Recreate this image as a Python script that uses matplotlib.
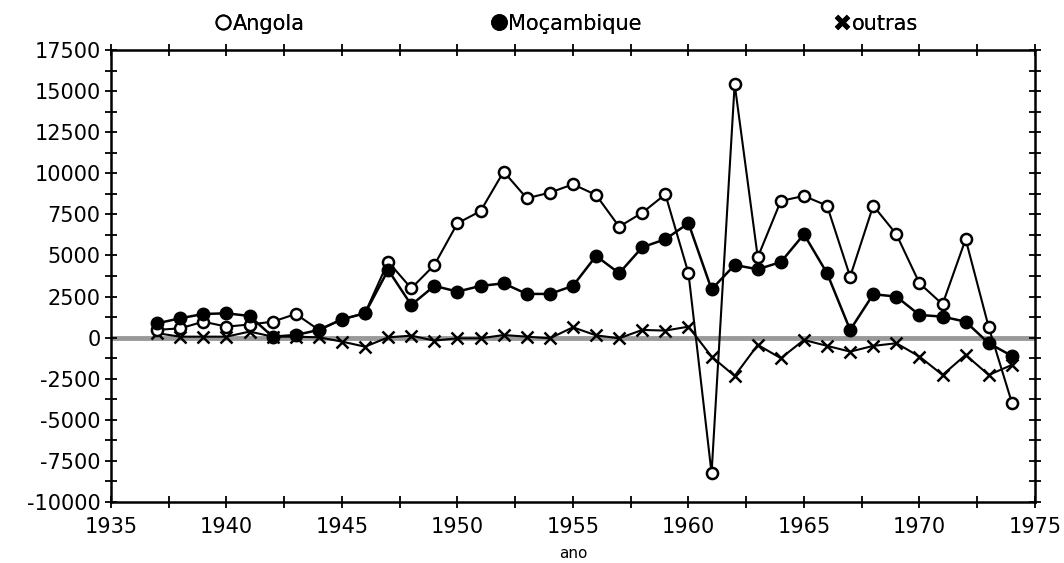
import matplotlib.pyplot as plt
import matplotlib.lines as mlines
import numpy as np
from matplotlib.ticker import MultipleLocator

plt.rcParams['font.family'] = ['DejaVu Sans']
plt.rcParams['axes.unicode_minus'] = False

anos = np.arange(1937, 1975)

angola = [470, 570, 970, 670, 800, 970, 1440, 470, 1100, 1500,
          4620, 3000, 4420, 6960, 7700, 10100, 8480, 8820, 9330, 8680,
          6750, 7600, 8720, 3920, -8250, 15430, 4890, 8320, 8620, 8030,
          3710, 8030, 6290, 3310, 2030, 5990, 630, -3950]

mocambique = [870, 1180, 1440, 1480, 1320, 60, 160, 470, 1120, 1480,
              4120, 1990, 3150, 2800, 3150, 3300, 2660, 2660, 3150, 4970,
              3920, 5500, 5990, 6960, 2940, 4420, 4160, 4600, 6290, 3920,
              470, 2640, 2500, 1380, 1280, 970, -340, -1110]

outras = [270, 60, 60, 60, 370, 60, 60, 20, -240, -550,
          20, 120, -180, -40, -40, 160, 60, -40, 630, 140,
          -40, 470, 430, 670, -1150, -2330, -440, -1250, -140, -500,
          -850, -500, -340, -1150, -2270, -1050, -2270, -1660]

nomes = ['Angola', 'Moçambique', 'outras']

fig = plt.figure(figsize=(10.64, 5.63), dpi=100)
ax = fig.add_axes([0.1043, 0.1083, 0.8684, 0.8029])

ax.axhline(0, color='#999999', lw=3.5, zorder=1)

ax.plot(anos, angola, color='k', lw=1.5, marker='o', ms=8,
        mfc='white', mec='k', mew=1.8, zorder=3)
ax.plot(anos, mocambique, color='k', lw=1.8, marker='o', ms=9,
        mfc='k', mec='k', zorder=4)
ax.plot(anos, outras, color='k', lw=1.5, marker='x', ms=9,
        mew=1.8, zorder=2)

ax.set_xlim(1935, 1975)
ax.set_ylim(-10000, 17500)
ax.xaxis.set_major_locator(MultipleLocator(5))
ax.xaxis.set_minor_locator(MultipleLocator(2.5))
ax.yaxis.set_major_locator(MultipleLocator(2500))
ax.yaxis.set_minor_locator(MultipleLocator(1250))
ax.tick_params(which='both', direction='inout', length=9, width=1.3,
               top=True, right=True, labelsize=15)
ax.tick_params(axis='x', pad=6)
ax.tick_params(axis='y', pad=3)
for s in ax.spines.values():
    s.set_linewidth(1.8)

ax.set_xlabel('ano', fontsize=11, labelpad=7)

# legenda: tres entradas espalhadas no topo
hs = [mlines.Line2D([], [], ls='none', marker='o', ms=10, mfc='white', mec='k', mew=1.5),
      mlines.Line2D([], [], ls='none', marker='o', ms=11, mfc='k', mec='k'),
      mlines.Line2D([], [], ls='none', marker='x', ms=9, mew=3.5, color='k')]
xs = [0.245, 0.533, 0.824]
for h, nome, x in zip(hs, nomes, xs):
    leg = fig.legend([h], [nome], loc='center', bbox_to_anchor=(x, 0.958),
                     frameon=False, fontsize=15, handlelength=0.6,
                     handletextpad=0.15, borderpad=0)
    fig.add_artist(leg)

fig.savefig('out.png', dpi=100)
